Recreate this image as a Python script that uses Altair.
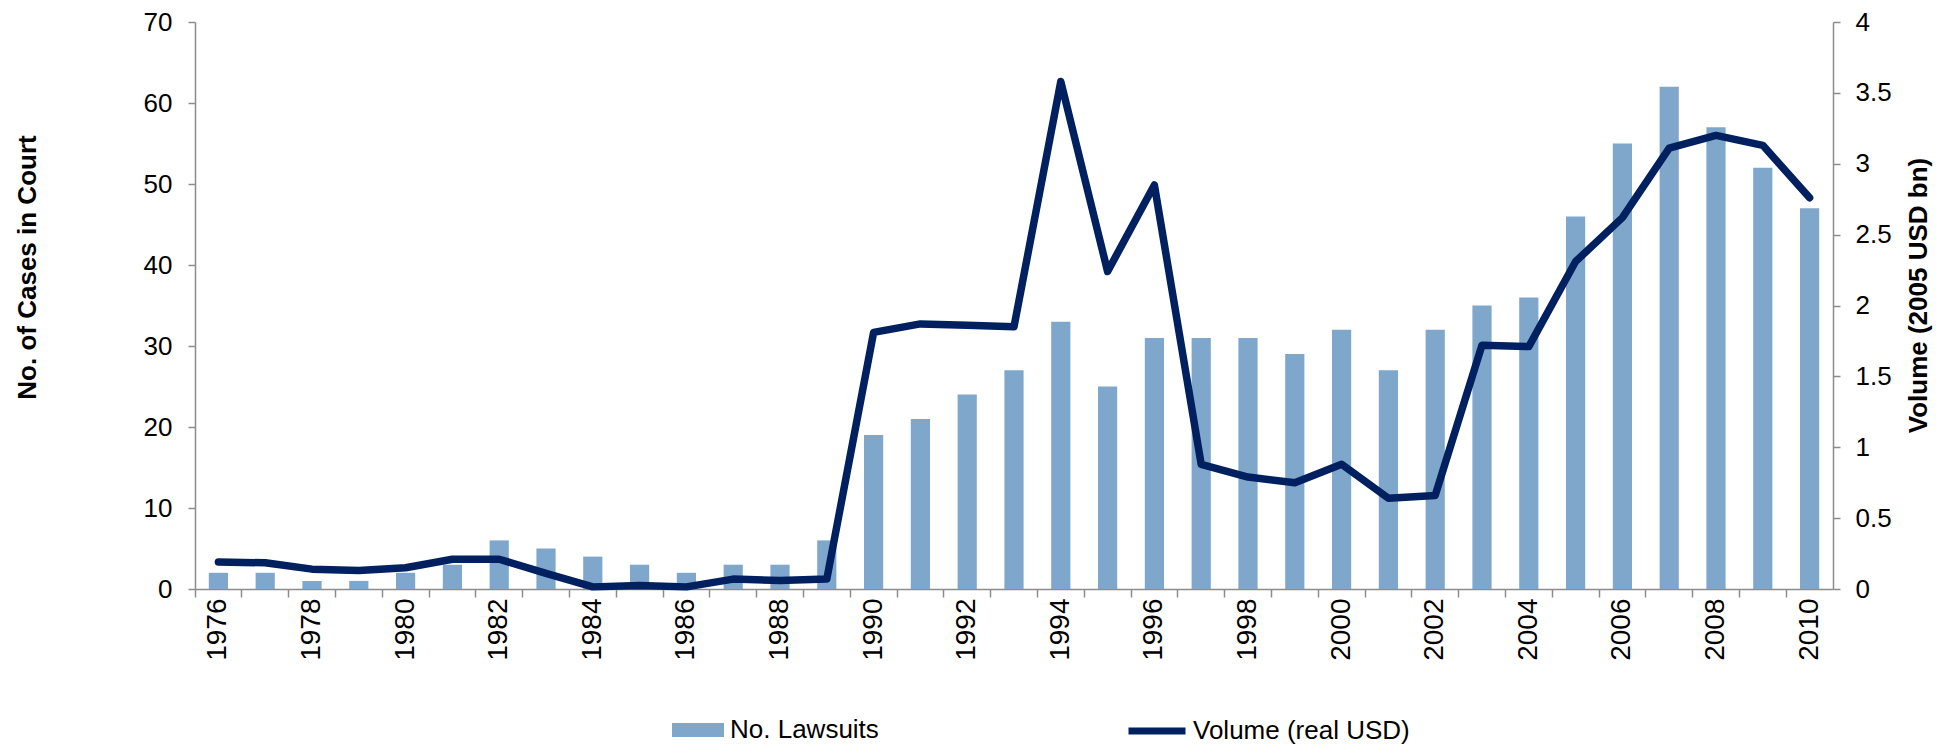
import altair as alt
import pandas as pd

years = [1976, 1977, 1978, 1979, 1980, 1981, 1982, 1983, 1984, 1985, 1986, 1987,
         1988, 1989, 1990, 1991, 1992, 1993, 1994, 1995, 1996, 1997, 1998, 1999,
         2000, 2001, 2002, 2003, 2004, 2005, 2006, 2007, 2008, 2009, 2010]
lawsuits = [2, 2, 1, 1, 2, 3, 6, 5, 4, 3, 2, 3, 3, 6, 19, 21, 24, 27, 33, 25, 31,
            31, 31, 29, 32, 27, 32, 35, 36, 46, 55, 62, 57, 52, 47]
volume = [0.19, 0.185, 0.14, 0.13, 0.15, 0.21, 0.21, 0.11, 0.015, 0.025, 0.015,
          0.07, 0.06, 0.07, 1.81, 1.87, 1.86, 1.85, 3.58, 2.24, 2.85, 0.88, 0.79,
          0.75, 0.88, 0.64, 0.66, 1.72, 1.71, 2.31, 2.62, 3.11, 3.20, 3.13, 2.76]
left_ticks = [0, 10, 20, 30, 40, 50, 60, 70]
right_ticks = [0, 0.5, 1, 1.5, 2, 2.5, 3, 3.5, 4]
bar_name = "No. Lawsuits"
line_name = "Volume (real USD)"

df = pd.DataFrame({
    "year": years,
    "lawsuits": lawsuits,
    "volume": volume,
    "s1": [bar_name] * len(years),
    "s2": [line_name] * len(years),
})

FONT = "Liberation Sans"
BAR_COLOR = "#7EA7CB"
LINE_COLOR = "#002060"

x_enc = alt.X(
    "year:O",
    scale=alt.Scale(paddingInner=0, paddingOuter=0),
    axis=alt.Axis(
        title=None,
        bandPosition=0,
        labelOffset=0,
        labelAngle=270,
        labelPadding=1,
        labelFontSize=28,
        labelOverlap=False,
        labelExpr="datum.value % 2 == 0 ? datum.label : ''",
        tickSize=8,
    ),
)

bars = alt.Chart(df).mark_bar(width=alt.RelativeBandSize(0.41)).encode(
    x=x_enc,
    y=alt.Y(
        "lawsuits:Q",
        scale=alt.Scale(domain=[0, 70], nice=False),
        axis=alt.Axis(
            orient="left",
            values=left_ticks,
            tickSize=7,
            labelPadding=16,
            title="No. of Cases in Court",
            titleAngle=270,
            titleX=-168,
            titleY=245,
            titleAlign="center",
            titleBaseline="middle",
        ),
    ),
    fill=alt.Fill(
        "s1:N",
        scale=alt.Scale(domain=[bar_name], range=[BAR_COLOR]),
        legend=alt.Legend(
            orient="none",
            legendX=477,
            legendY=682,
            title=None,
            padding=0,
            symbolType="M-1,-0.27L1,-0.27L1,0.27L-1,0.27Z",
            symbolSize=2704,
            symbolStrokeWidth=0,
            labelOffset=6,
            labelFontSize=26,
            labelLimit=400,
        ),
    ),
)

line = alt.Chart(df).mark_line(
    strokeWidth=7.5, strokeCap="round", strokeJoin="round"
).encode(
    x=x_enc,
    y=alt.Y(
        "volume:Q",
        scale=alt.Scale(domain=[0, 4], nice=False),
        axis=alt.Axis(
            orient="right",
            values=right_ticks,
            format=".1~f",
            tickSize=7,
            labelPadding=15,
            title="Volume (2005 USD bn)",
            titleAngle=270,
            titleX=85.5,
            titleY=273,
            titleAlign="center",
            titleBaseline="middle",
        ),
    ),
    stroke=alt.Stroke(
        "s2:N",
        scale=alt.Scale(domain=[line_name], range=[LINE_COLOR]),
        legend=alt.Legend(
            orient="none",
            legendX=930,
            legendY=677,
            title=None,
            padding=0,
            symbolType="stroke",
            symbolSize=3249,
            symbolStrokeWidth=7,
            labelOffset=4,
            labelFontSize=26,
            labelLimit=400,
        ),
    ),
)

chart = alt.layer(bars, line).resolve_scale(y="independent").properties(
    width=1638,
    height=567,
    autosize="none",
    padding={"left": 187, "top": 14, "right": 103, "bottom": 157},
).configure(font=FONT).configure_view(stroke=None).configure_axis(
    labelFont=FONT,
    labelFontSize=26,
    labelColor="black",
    titleFont=FONT,
    titleFontSize=26,
    titleFontWeight="bold",
    titleColor="black",
    domainColor="#8C8C8C",
    tickColor="#8C8C8C",
    domainWidth=1.5,
    tickWidth=1.5,
    grid=False,
).configure_legend(
    labelFont=FONT,
    labelFontSize=26,
    labelColor="black",
)

chart.save("out.html", embed_options={"renderer": "svg", "actions": False})
